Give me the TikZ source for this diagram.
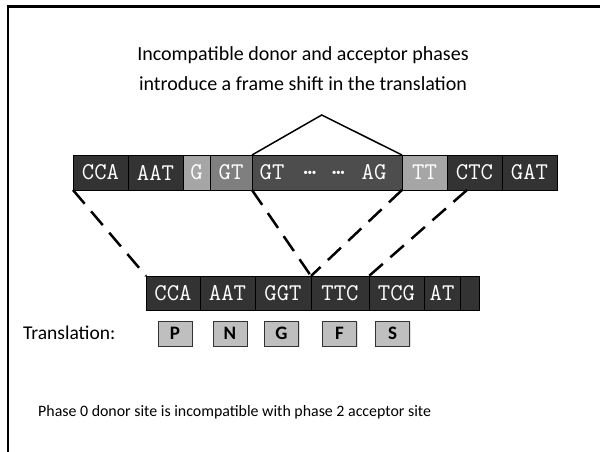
\documentclass[tikz,border=0pt]{standalone}
\usepackage{fontspec}
\setmainfont{Carlito}
\usetikzlibrary{shadows}
\definecolor{dk}{HTML}{333333}
\definecolor{lt}{HTML}{A6A6A6}
\definecolor{md}{HTML}{7F7F7F}
\definecolor{in}{HTML}{4D4D4D}
\definecolor{aa}{HTML}{BFBFBF}
\tikzset{
  cell/.style={draw=black, line width=0.6pt, inner sep=0pt, outer sep=0pt,
    minimum height=35pt, text=white, font=\ttfamily\fontsize{24}{24}\selectfont},
  bcell/.style={cell, fill=dk, minimum height=34pt},
  seqtxt/.style={inner sep=0pt, text=white, font=\ttfamily\fontsize{24}{24}\selectfont},
  aabox/.style={draw=black!80, line width=0.8pt, fill=aa, inner sep=0pt,
    minimum width=34pt, minimum height=25pt, font=\fontsize{19}{19}\selectfont\bfseries,
    drop shadow={opacity=0.25, shadow xshift=1pt, shadow yshift=-1pt}},
  dashln/.style={line width=2.5pt, dash pattern=on 18pt off 10pt},
  hat/.style={line width=1.5pt}
}
\begin{document}
\begin{tikzpicture}[x=1pt, y=-1pt]
\useasboundingbox (0,0) rectangle (600,452);
\fill[white] (0,0) rectangle (600,452);
% frame
\draw[line width=2.5pt] (8,452) -- (8,6.5) -- (600,6.5);
% title
\node[align=center, font=\fontsize{20}{30}\selectfont] (title) at (303,69)
  {Incompatible donor and acceptor phases\\introduce a frame shift in the translation};
% top row
\node[cell, fill=dk, minimum width=55pt] (cca) at (100.5,172.5) {CCA};
\node[cell, fill=dk, minimum width=55pt] (aat) at (155.5,172.5) {AAT};
\node[cell, fill=lt, minimum width=27pt] (g) at (196.5,172.5) {G};
\node[cell, fill=md, minimum width=42pt] (gt) at (231,172.5) {GT};
\node[cell, fill=in, minimum width=150pt] (gtag) at (327,172.5) {};
\node[seqtxt] (gtagA) at (272,172.5) {GT};
\node[seqtxt] (gtagB) at (310,172.5) {\bfseries …};
\node[seqtxt] (gtagC) at (338.5,172.5) {\bfseries …};
\node[seqtxt] (gtagD) at (374,172.5) {AG};
\node[cell, fill=lt, minimum width=45pt] (tt) at (424.5,172.5) {TT};
\node[cell, fill=dk, minimum width=55pt] (ctc) at (474.5,172.5) {CTC};
\node[cell, fill=dk, minimum width=55pt] (gat) at (529.5,172.5) {GAT};
% intron hat
\coordinate (peak) at (321.7,115);
\draw[hat] (gtag.north west) -- (peak) -- (gtag.north east);
% bottom row
\node[bcell, minimum width=54pt] (bcca) at (173,293) {CCA};
\node[bcell, minimum width=55pt] (baat) at (227.5,293) {AAT};
\node[bcell, minimum width=56pt] (bggt) at (283,293) {GGT};
\node[bcell, minimum width=58pt] (bttc) at (340,293) {TTC};
\node[bcell, minimum width=55pt] (btcg) at (396.5,293) {TCG};
\node[bcell, minimum width=36pt] (bat) at (442,293) {AT};
\node[bcell, minimum width=19pt] (bend) at (469.5,293) {};
% dashed connectors
\coordinate (ctcpt) at (467,190);
\draw[dashln] (cca.south west) -- (bcca.north west);
\draw[dashln] (gtag.south west) -- (bttc.north west);
\draw[dashln] (tt.south west) -- (bttc.north west);
\draw[dashln] (ctcpt) -- (btcg.north west);
% translation
\node[anchor=west, inner sep=0pt, font=\fontsize{19.5}{19.5}\selectfont] (trl) at (23,333) {Translation:};
\node[aabox] (aaP) at (175,333.5) {P};
\node[aabox] (aaN) at (230,333.5) {N};
\node[aabox] (aaG) at (281.5,333.5) {G};
\node[aabox] (aaF) at (339.5,333.5) {F};
\node[aabox] (aaS) at (392.5,333.5) {S};
% note
\node[anchor=west, inner sep=0pt, font=\fontsize{15.9}{15.9}\selectfont] (note) at (38,412)
  {Phase 0 donor site is incompatible with phase 2 acceptor site};
\end{tikzpicture}
\end{document}
